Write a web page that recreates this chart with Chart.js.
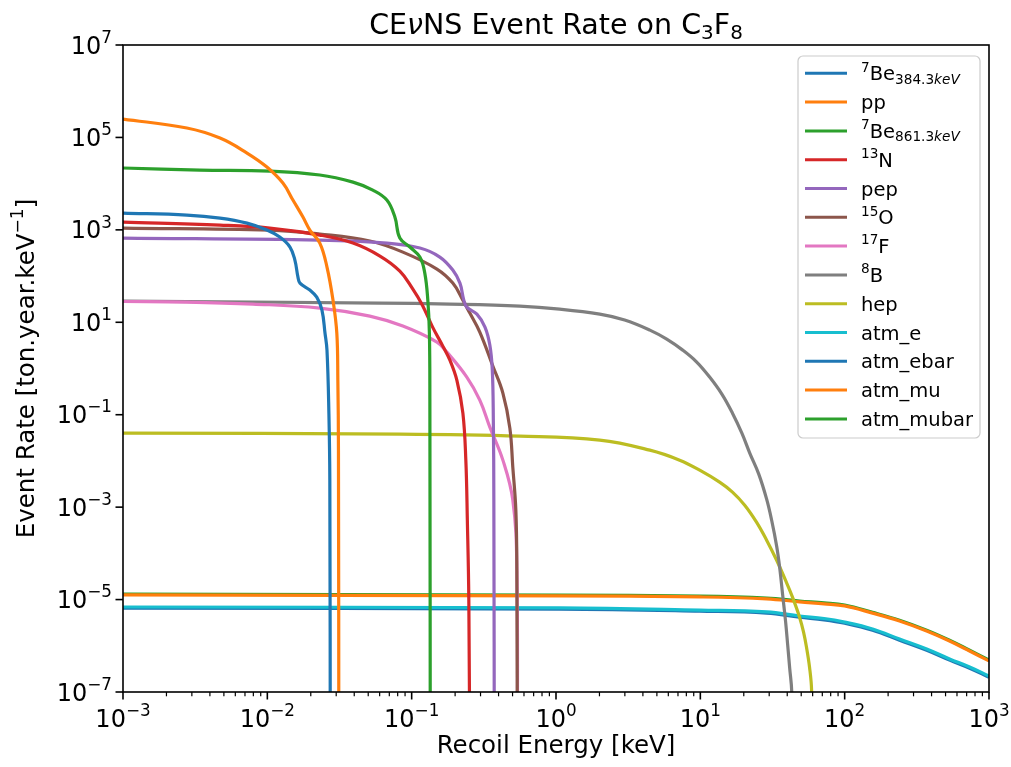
<!DOCTYPE html>
<html>
<head>
<meta charset="utf-8">
<title>CEvNS Event Rate on C3F8</title>
<script src="https://cdn.jsdelivr.net/npm/chart.js@4.4.1/dist/chart.umd.min.js"></script>
<style>
  html, body { margin: 0; padding: 0; background: #ffffff; }
</style>
</head>
<body>
<canvas id="rateChart" width="1011" height="767"></canvas>
<script>
// Event rate curves: [recoil energy keV, rate ton^-1 yr^-1 keV^-1]
const be7_384 = [[0.001, 2310], [0.00277, 2090], [0.0047, 1800], [0.00723, 1400], [0.00993, 990],
  [0.0122, 698], [0.01435, 425], [0.01552, 222], [0.0163, 95], [0.01683, 70.5], [0.0197, 49.8],
  [0.0220, 35], [0.0239, 18.4], [0.0251, 5.8], [0.0259, 2.5], [0.0267, 0.108], [0.0271, 0.0038],
  [0.0273, 1e-9]];
const pp = [[0.001, 2.5e5], [0.00277, 1.6e5], [0.0047, 9.7e4], [0.00723, 4.6e4], [0.00993, 2.29e4],
  [0.01282, 1.03e4], [0.01504, 4420], [0.01765, 1890], [0.0197, 990], [0.0231, 518], [0.0259, 157],
  [0.0285, 30.2], [0.0303, 5.8], [0.0308, 0.56], [0.0311, 0.017], [0.0313, 1e-9]];
const be7_861 = [[0.001, 2.18e4], [0.00341, 1.97e4], [0.0104, 1.87e4], [0.0231, 1.54e4], [0.0392, 1.08e4],
  [0.0538, 7260], [0.0673, 4420], [0.0765, 1890], [0.0828, 665], [0.0972, 425], [0.114, 258],
  [0.1233, 116], [0.1294, 30.2], [0.1327, 5.8], [0.1337, 0.207], [0.1346, 1e-9]];
const n13 = [[0.001, 1476], [0.0047, 1270], [0.0104, 1094], [0.0231, 771], [0.0392, 518], [0.0603, 271],
  [0.0828, 128], [0.1009, 55], [0.1187, 23.5], [0.1397, 7.87], [0.1644, 3.05], [0.184, 1.52],
  [0.2056, 0.561], [0.2264, 0.108], [0.2373, 0.0104], [0.2431, 5.2e-4], [0.2489, 9.7e-6], [0.253, 1e-9]];
const pep = [[0.001, 665], [0.0231, 601], [0.0675, 518], [0.114, 404], [0.1567, 258], [0.1927, 135],
  [0.216, 70.5], [0.2297, 30.2], [0.241, 21.3], [0.2831, 15], [0.322, 7.87], [0.348, 3.21],
  [0.362, 0.925], [0.368, 0.0764], [0.371, 0.00142], [0.374, 1e-9]];
const o15 = [[0.001, 1094], [0.0104, 990], [0.0231, 811], [0.0513, 573], [0.0869, 330], [0.1496, 142],
  [0.1927, 70.5], [0.2264, 30.2], [0.253, 15.8], [0.2965, 6.14], [0.365, 1.13], [0.4285, 0.294],
  [0.479, 0.0513], [0.502, 0.00734], [0.527, 8.6e-4], [0.5355, 4.3e-5], [0.5395, 1e-9]];
const f17 = [[0.001, 28.2], [0.00277, 27.4], [0.00794, 24.8], [0.0231, 20.3], [0.0513, 13.6],
  [0.0869, 8.28], [0.1496, 3.73], [0.1754, 2.26], [0.241, 0.652], [0.2965, 0.207], [0.348, 0.054],
  [0.4285, 0.0104], [0.502, 0.00142], [0.5355, 5.0e-5], [0.5395, 1e-9]];
const b8 = [[0.001, 28.8], [0.0603, 26.1], [0.184, 24.8], [0.561, 22.4], [1.06, 19.3], [2.01, 15.0],
  [2.99, 11.2], [4.47, 6.78], [5.85, 4.33], [7.55, 2.5], [9.44, 1.38], [11.6, 0.652], [14.1, 0.279],
  [16.7, 0.108], [19.4, 0.04], [22.0, 0.0148], [25.4, 0.00518], [28.8, 0.00149], [31.2, 5.2e-4],
  [33.8, 1.43e-4], [35.5, 4.79e-5], [37.2, 1.25e-5], [39.0, 3.24e-6], [40.3, 1.03e-6], [41.6, 3.27e-7],
  [43.0, 9.9e-8], [43.6, 1e-9]];
const hep = [[0.001, 0.04], [0.0828, 0.038], [0.561, 0.0344], [2.01, 0.0282], [4.47, 0.0171], [7.19, 0.0104],
  [9.9, 0.0063], [13.6, 0.00347], [16.7, 0.00211], [20.3, 0.0011], [24.5, 4.73e-4], [28.8, 1.93e-4],
  [33.8, 7.1e-5], [38.9, 2.63e-5], [43.5, 1.13e-5], [48.7, 4.16e-6], [51.9, 1.97e-6], [54.4, 9.3e-7],
  [57.1, 3.44e-7], [59.0, 1.09e-7], [60.0, 1e-9]];
const atmEnergy = [0.001, 1.06, 9.9, 28.8, 48.7, 72, 100, 156, 240, 370, 533, 734, 1000];
const atm_e = [6.9e-6, 6.6e-6, 5.9e-6, 5.4e-6, 4.41e-6, 3.9e-6, 3.26e-6, 2.31e-6, 1.4e-6, 8.5e-7, 5.2e-7, 3.47e-7, 2.22e-7];
const atm_ebar = [6.5e-6, 6.2e-6, 5.6e-6, 5.1e-6, 4.16e-6, 3.65e-6, 3.08e-6, 2.18e-6, 1.32e-6, 8.0e-7, 4.9e-7, 3.27e-7, 2.09e-7];
const atm_mu = [1.26e-5, 1.2e-5, 1.14e-5, 1.04e-5, 8.9e-6, 8.1e-6, 7.3e-6, 5.1e-6, 3.44e-6, 2.09e-6, 1.27e-6, 7.7e-7, 4.7e-7];
const atm_mubar = [1.31e-5, 1.25e-5, 1.19e-5, 1.08e-5, 9.3e-6, 8.5e-6, 7.6e-6, 5.3e-6, 3.58e-6, 2.18e-6, 1.32e-6, 8.0e-7, 4.9e-7];

const withEnergy = vals => vals.map((v, i) => [atmEnergy[i], v]);
const seriesData = [be7_384, pp, be7_861, n13, pep, o15, f17, b8, hep,
  withEnergy(atm_e), withEnergy(atm_ebar), withEnergy(atm_mu), withEnergy(atm_mubar)];
const seriesColors = ['#1f77b4', '#ff7f0e', '#2ca02c', '#d62728', '#9467bd', '#8c564b', '#e377c2',
  '#7f7f7f', '#bcbd22', '#17becf', '#1f77b4', '#ff7f0e', '#2ca02c'];
// legend text as [text, style] runs (sup / sub / italic)
const legendLabels = [
  [['7', 'sup'], ['Be', ''], ['384.3', 'sub'], ['keV', 'sub it']],
  [['pp', '']],
  [['7', 'sup'], ['Be', ''], ['861.3', 'sub'], ['keV', 'sub it']],
  [['13', 'sup'], ['N', '']],
  [['pep', '']],
  [['15', 'sup'], ['O', '']],
  [['17', 'sup'], ['F', '']],
  [['8', 'sup'], ['B', '']],
  [['hep', '']],
  [['atm_e', '']],
  [['atm_ebar', '']],
  [['atm_mu', '']],
  [['atm_mubar', '']]
];

const xTickExps = [-3, -2, -1, 0, 1, 2, 3];
const yTickExps = [-7, -5, -3, -1, 1, 3, 5, 7];
const titleText = [['CE', ''], ['ν', 'it'], ['NS Event Rate on C', ''], ['3', 'sub'], ['F', ''], ['8', 'sub']];
const xTitleText = [['Recoil Energy [keV]', '']];
const yTitleText = [['Event Rate [ton.year.keV', ''], ['−1', 'sup'], [']', '']];

const FONT = "'DejaVu Sans', 'Liberation Sans', sans-serif";

function runFont(style, size) {
  const s = style.includes('sup') || style.includes('sub') ? size * 0.7 : size;
  return (style.includes('it') ? 'italic ' : '') + s + 'px ' + FONT;
}

// draws runs of text with super/subscripts, baseline at y
function drawRich(ctx, runs, x, y, align, size) {
  const widths = runs.map(r => { ctx.font = runFont(r[1], size); return ctx.measureText(r[0]).width; });
  const total = widths.reduce((a, b) => a + b, 0);
  let cx = align === 'center' ? x - total / 2 : (align === 'right' ? x - total : x);
  ctx.textAlign = 'left';
  ctx.textBaseline = 'alphabetic';
  runs.forEach((r, i) => {
    ctx.font = runFont(r[1], size);
    let dy = 0;
    if (r[1].includes('sup')) dy = -0.45 * size;
    if (r[1].includes('sub')) dy = 0.18 * size;
    ctx.fillText(r[0], cx, y + dy);
    cx += widths[i];
  });
  return total;
}

function powerLabel(e) {
  return [['10', ''], [(e < 0 ? '−' : '') + Math.abs(e), 'sup']];
}

const axesDecor = {
  id: 'axesDecor',
  afterDraw(chart) {
    const ctx = chart.ctx;
    const area = chart.chartArea;
    const xs = chart.scales.x, ys = chart.scales.y;
    ctx.save();
    ctx.fillStyle = '#000';
    ctx.strokeStyle = '#000';

    // frame
    ctx.lineWidth = 1.6;
    ctx.strokeRect(area.left, area.top, area.right - area.left, area.bottom - area.top);

    // x ticks, major + minor
    for (let e = -3; e <= 3; e++) {
      for (let m = 1; m <= 9; m++) {
        const v = m * Math.pow(10, e);
        if (v > 1000.0001) break;
        const px = xs.getPixelForValue(v);
        const len = m === 1 ? 7.5 : 4.3;
        ctx.lineWidth = m === 1 ? 1.6 : 1.2;
        ctx.beginPath();
        ctx.moveTo(px, area.bottom);
        ctx.lineTo(px, area.bottom + len);
        ctx.stroke();
      }
    }
    xTickExps.forEach(e => {
      const px = xs.getPixelForValue(Math.pow(10, e));
      drawRich(ctx, powerLabel(e), px, 727, 'center', 24);
    });

    // y ticks, major only
    yTickExps.forEach(e => {
      const py = ys.getPixelForValue(Math.pow(10, e));
      ctx.lineWidth = 1.6;
      ctx.beginPath();
      ctx.moveTo(area.left, py);
      ctx.lineTo(area.left - 7.5, py);
      ctx.stroke();
      drawRich(ctx, powerLabel(e), area.left - 11, py + 8.5, 'right', 24);
    });

    // axis titles and chart title
    drawRich(ctx, xTitleText, (area.left + area.right) / 2, 753, 'center', 24.5);
    ctx.save();
    ctx.translate(34, (area.top + area.bottom) / 2);
    ctx.rotate(-Math.PI / 2);
    drawRich(ctx, yTitleText, 0, 0, 'center', 24.5);
    ctx.restore();
    drawRich(ctx, titleText, (area.left + area.right) / 2, 34, 'center', 28.5);

    // legend
    const lx = 798, ly = 56, lw = 182, lh = 382;
    ctx.beginPath();
    ctx.roundRect(lx, ly, lw, lh, 5);
    ctx.fillStyle = 'rgba(255,255,255,0.8)';
    ctx.fill();
    ctx.strokeStyle = '#cccccc';
    ctx.lineWidth = 1.2;
    ctx.stroke();
    legendLabels.forEach((runs, i) => {
      const cy = 73.3 + i * 28.8;
      ctx.strokeStyle = seriesColors[i];
      ctx.lineWidth = 3;
      ctx.beginPath();
      ctx.moveTo(805, cy);
      ctx.lineTo(847, cy);
      ctx.stroke();
      ctx.fillStyle = '#000';
      drawRich(ctx, runs, 861, cy + 7, 'left', 19.5);
    });
    ctx.restore();
  }
};

const datasets = seriesData.map((pts, i) => ({
  label: legendLabels[i].map(r => r[0]).join(''),
  data: pts.map(p => ({ x: p[0], y: p[1] })),
  borderColor: seriesColors[i],
  backgroundColor: seriesColors[i],
  borderWidth: 3.2,
  pointRadius: 0,
  fill: false,
  tension: 0.4,
  clip: 0
}));

new Chart(document.getElementById('rateChart'), {
  type: 'line',
  data: { datasets },
  options: {
    responsive: false,
    animation: false,
    devicePixelRatio: 1,
    layout: { padding: { left: 123, top: 45, right: 22, bottom: 75 } },
    plugins: { legend: { display: false }, tooltip: { enabled: false }, title: { display: false } },
    scales: {
      x: { type: 'logarithmic', min: 1e-3, max: 1e3, display: false },
      y: { type: 'logarithmic', min: 1e-7, max: 1e7, display: false }
    }
  },
  plugins: [axesDecor]
});
</script>
</body>
</html>
